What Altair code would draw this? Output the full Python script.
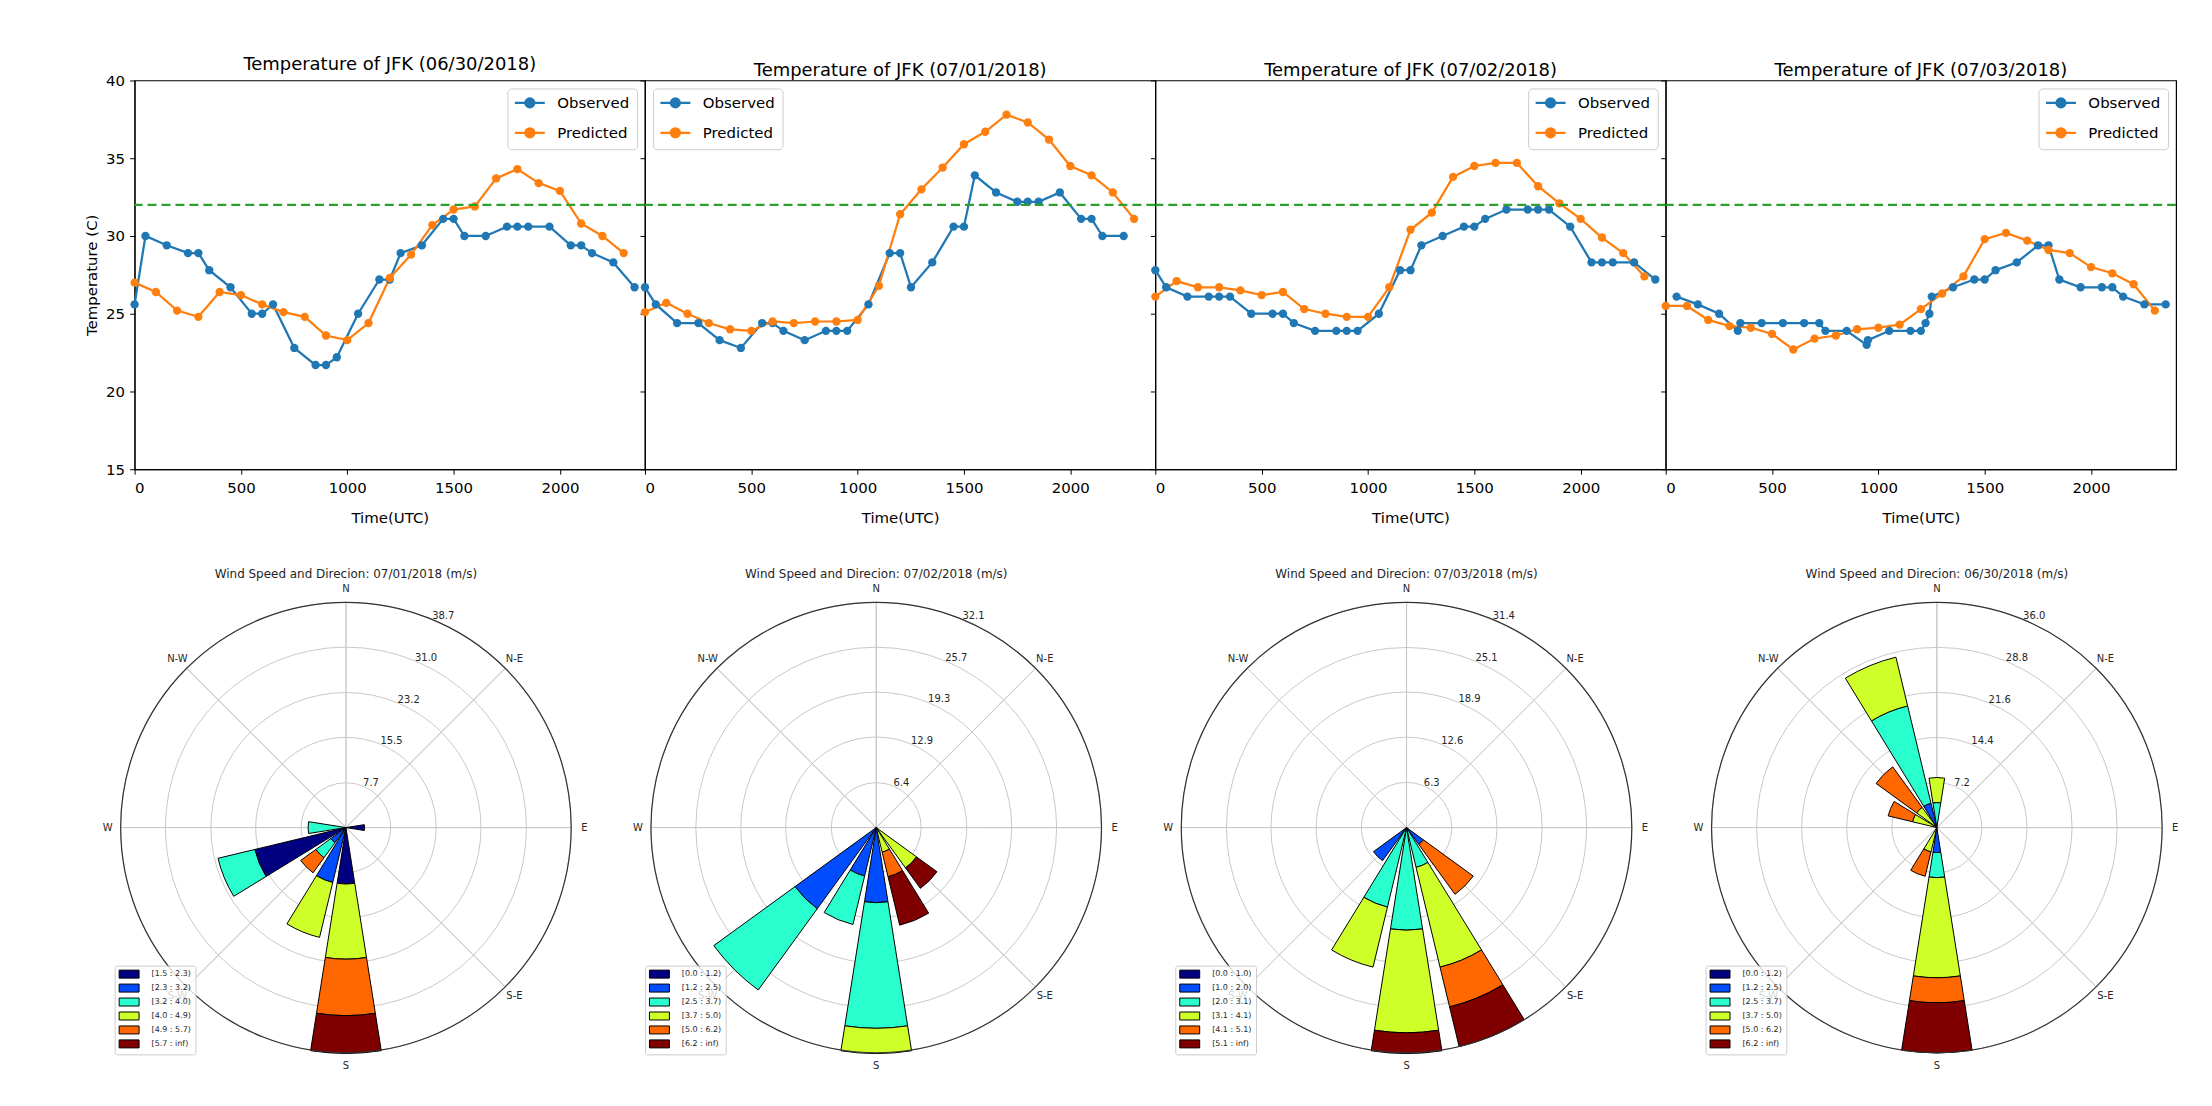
import math
import altair as alt
import pandas as pd

FONT = "DejaVu Sans"

# ---------------- temperature panels ----------------
TEMP_DATES = ["06/30/2018", "07/01/2018", "07/02/2018", "07/03/2018"]
SERIES = ["Observed", "Predicted"]
SERIES_COLORS = ["#1f77b4", "#ff7f0e"]
THRESHOLD = 32
X_TICKS = [0, 500, 1000, 1500, 2000]
Y_TICKS = [15, 20, 25, 30, 35, 40]
LEGEND_CORNERS = ["top-right", "top-left", "top-right", "top-right"]

PRED_TIME = [0, 100, 200, 300, 400, 500, 600, 700, 800, 900, 1000, 1100,
             1200, 1300, 1400, 1500, 1600, 1700, 1800, 1900, 2000, 2100, 2200, 2300]

OBS_TIME_0630 = [0, 51, 151, 251, 300, 351, 451, 551, 600, 651, 751, 851, 900, 951, 1051, 1151,
                 1200, 1251, 1351, 1451, 1500, 1551, 1651, 1751, 1800, 1851, 1951, 2051, 2100, 2151, 2251, 2351]
OBS_TEMP_0630 = [25.6, 30.0, 29.4, 28.9, 28.9, 27.8, 26.7, 25.0, 25.0, 25.6, 22.8, 21.7, 21.7, 22.2, 25.0, 27.2,
                 27.2, 28.9, 29.4, 31.1, 31.1, 30.0, 30.0, 30.6, 30.6, 30.6, 30.6, 29.4, 29.4, 28.9, 28.3, 26.7]
PRED_TEMP_0630 = [27.0, 26.4, 25.2, 24.8, 26.4, 26.2, 25.6, 25.1, 24.8, 23.6, 23.3, 24.4,
                  27.3, 28.8, 30.7, 31.7, 31.9, 33.7, 34.3, 33.4, 32.9, 30.8, 30.0, 28.9]

OBS_TIME_0701 = [0, 51, 151, 251, 351, 451, 551, 600, 651, 751, 851, 900, 951, 1051, 1151,
                 1200, 1251, 1351, 1451, 1500, 1551, 1651, 1751, 1800, 1851, 1951, 2051, 2100, 2151, 2251]
OBS_TEMP_0701 = [26.7, 25.6, 24.4, 24.4, 23.3, 22.8, 24.4, 24.4, 23.9, 23.3, 23.9, 23.9, 23.9, 25.6, 28.9,
                 28.9, 26.7, 28.3, 30.6, 30.6, 33.9, 32.8, 32.2, 32.2, 32.2, 32.8, 31.1, 31.1, 30.0, 30.0]
PRED_TEMP_0701 = [25.1, 25.7, 25.0, 24.4, 24.0, 23.9, 24.5, 24.4, 24.5, 24.5, 24.6, 26.8,
                  31.4, 33.0, 34.4, 35.9, 36.7, 37.8, 37.3, 36.2, 34.5, 33.9, 32.8, 31.1]

OBS_TIME_0702 = [0, 51, 151, 251, 300, 351, 451, 551, 600, 651, 751, 851, 900, 951, 1051, 1151,
                 1200, 1251, 1351, 1451, 1500, 1551, 1651, 1751, 1800, 1851, 1951, 2051, 2100, 2151, 2251, 2351]
OBS_TEMP_0702 = [27.8, 26.7, 26.1, 26.1, 26.1, 26.1, 25.0, 25.0, 25.0, 24.4, 23.9, 23.9, 23.9, 23.9, 25.0, 27.8,
                 27.8, 29.4, 30.0, 30.6, 30.6, 31.1, 31.7, 31.7, 31.7, 31.7, 30.6, 28.3, 28.3, 28.3, 28.3, 27.2]
PRED_TEMP_0702 = [26.1, 27.1, 26.7, 26.7, 26.5, 26.2, 26.4, 25.3, 25.0, 24.8, 24.8, 26.7,
                  30.4, 31.5, 33.8, 34.5, 34.7, 34.7, 33.2, 32.1, 31.1, 29.9, 28.9, 27.4]

OBS_TIME_0703 = [51, 151, 251, 339, 351, 451, 551, 651, 722, 751, 851, 945, 951, 1051, 1151, 1200, 1222,
                 1240, 1251, 1351, 1451, 1500, 1551, 1651, 1751, 1800, 1851, 1951, 2051, 2100, 2151, 2251, 2351]
OBS_TEMP_0703 = [26.1, 25.6, 25.0, 23.9, 24.4, 24.4, 24.4, 24.4, 24.4, 23.9, 23.9, 23.0, 23.3, 23.9, 23.9, 23.9, 24.4,
                 25.0, 26.1, 26.7, 27.2, 27.2, 27.8, 28.3, 29.4, 29.4, 27.2, 26.7, 26.7, 26.7, 26.1, 25.6, 25.6]
PRED_TEMP_0703 = [25.5, 25.5, 24.6, 24.2, 24.1, 23.7, 22.7, 23.4, 23.6, 24.0, 24.1, 24.3,
                  25.3, 26.3, 27.4, 29.8, 30.2, 29.7, 29.1, 28.9, 28.0, 27.6, 26.9, 25.2]

OBS_TIMES = [OBS_TIME_0630, OBS_TIME_0701, OBS_TIME_0702, OBS_TIME_0703]
OBS_TEMPS = [OBS_TEMP_0630, OBS_TEMP_0701, OBS_TEMP_0702, OBS_TEMP_0703]
PRED_TEMPS = [PRED_TEMP_0630, PRED_TEMP_0701, PRED_TEMP_0702, PRED_TEMP_0703]

# ---------------- wind roses ----------------
JET6 = ["#000080", "#004cff", "#29ffce", "#ceff29", "#ff6800", "#800000"]
SECTORS = ["N", "NNE", "NE", "ENE", "E", "ESE", "SE", "SSE",
           "S", "SSW", "SW", "WSW", "W", "WNW", "NW", "NNW"]
COMPASS_LABELS = ["N", "N-E", "E", "S-E", "S", "S-W", "W", "N-W"]
COMPASS_ANGLES = [0, 45, 90, 135, 180, 225, 270, 315]

ROSE_DATES = ["07/01/2018", "07/02/2018", "07/03/2018", "06/30/2018"]

ROSE1_BINS = ["[1.5 : 2.3)", "[2.3 : 3.2)", "[3.2 : 4.0)", "[4.0 : 4.9)", "[4.9 : 5.7)", "[5.7 : inf)"]
ROSE1_RINGS = [7.7, 15.5, 23.2, 31.0, 38.7]
ROSE1_DIRS = ["E", "W", "WSW", "SW", "SSW", "S"]
ROSE1_FREQ = [[3.2, 0, 0, 0, 0, 0],
              [0, 0, 6.5, 0, 0, 0],
              [16.1, 0, 6.5, 0, 0, 0],
              [0, 3.2, 3.2, 0, 3.2, 0],
              [0, 9.7, 0, 9.7, 0, 0],
              [9.7, 0, 0, 12.9, 9.7, 6.5]]

ROSE2_BINS = ["[0.0 : 1.2)", "[1.2 : 2.5)", "[2.5 : 3.7)", "[3.7 : 5.0)", "[5.0 : 6.2)", "[6.2 : inf)"]
ROSE2_RINGS = [6.4, 12.9, 19.3, 25.7, 32.1]
ROSE2_DIRS = ["SE", "SSE", "S", "SSW", "SW"]
ROSE2_FREQ = [[0, 0, 0, 7.1, 0, 3.6],
              [0, 0, 0, 3.6, 3.6, 7.1],
              [0, 10.7, 17.9, 3.6, 0, 0],
              [0, 7.1, 7.1, 0, 0, 0],
              [0, 14.3, 14.3, 0, 0, 0]]

ROSE3_BINS = ["[0.0 : 1.0)", "[1.0 : 2.0)", "[2.0 : 3.1)", "[3.1 : 4.1)", "[4.1 : 5.1)", "[5.1 : inf)"]
ROSE3_RINGS = [6.3, 12.6, 18.9, 25.1, 31.4]
ROSE3_DIRS = ["SE", "SSE", "S", "SSW", "SW"]
ROSE3_FREQ = [[0, 2.9, 0, 0, 8.6, 0],
              [0, 0, 5.7, 14.3, 5.7, 5.7],
              [0, 0, 14.3, 14.3, 0, 2.9],
              [0, 0, 11.4, 8.6, 0, 0],
              [0, 5.7, 0, 0, 0, 0]]

ROSE4_BINS = ["[0.0 : 1.2)", "[1.2 : 2.5)", "[2.5 : 3.7)", "[3.7 : 5.0)", "[5.0 : 6.2)", "[6.2 : inf)"]
ROSE4_RINGS = [7.2, 14.4, 21.6, 28.8, 36.0]
ROSE4_DIRS = ["N", "NNW", "NW", "WNW", "SSW", "S"]
ROSE4_FREQ = [[0, 0, 4.0, 4.0, 0, 0],
              [0, 4.0, 16.0, 8.0, 0, 0],
              [0, 0, 0, 4.0, 8.0, 0],
              [0, 0, 0, 4.0, 4.0, 0],
              [0, 0, 0, 4.0, 4.0, 0],
              [0, 4.0, 4.0, 16.0, 4.0, 8.0]]

ROSES = [(ROSE1_BINS, ROSE1_RINGS, ROSE1_DIRS, ROSE1_FREQ),
         (ROSE2_BINS, ROSE2_RINGS, ROSE2_DIRS, ROSE2_FREQ),
         (ROSE3_BINS, ROSE3_RINGS, ROSE3_DIRS, ROSE3_FREQ),
         (ROSE4_BINS, ROSE4_RINGS, ROSE4_DIRS, ROSE4_FREQ)]

# ---------------- layout / style ----------------
SPACER_W = 53
PANEL_W, PANEL_H = 512, 390
ROSE_W, ROSE_H = 530, 473
ROSE_R = 226
OPENING = 18.0
LABEL_R = 1.058
LINE_MARKER = "M-3,0H3M0.9,0A0.9,0.9,0,1,1,-0.9,0A0.9,0.9,0,1,1,0.9,0Z"
SWATCH = "M-2.5,-1H2.5V1H-2.5Z"


def temp_panel(i):
    obs = pd.DataFrame({"time": OBS_TIMES[i], "temp": OBS_TEMPS[i], "series": SERIES[0]})
    pred = pd.DataFrame({"time": PRED_TIME, "temp": PRED_TEMPS[i], "series": SERIES[1]})
    df = pd.concat([obs, pred], ignore_index=True)

    x = alt.X("time:Q", scale=alt.Scale(domain=[0, 2400], nice=False, zero=False),
              axis=alt.Axis(values=X_TICKS, format="d", title="Time(UTC)", grid=False))
    yscale = alt.Scale(domain=[15, 40], nice=False, zero=False)
    if i == 0:
        yaxis = alt.Axis(values=Y_TICKS, format="d", title="Temperature (C)", grid=False)
    else:
        yaxis = alt.Axis(values=Y_TICKS, labels=False, title=None, grid=False, domain=False)
    y = alt.Y("temp:Q", scale=yscale, axis=yaxis)
    yr = alt.Y("thr:Q", scale=yscale, axis=yaxis)

    color = alt.Color("series:N", scale=alt.Scale(domain=SERIES, range=SERIES_COLORS),
                      legend=alt.Legend(title=None, orient=LEGEND_CORNERS[i], offset=8,
                                        fillColor="white", strokeColor="#cccccc", cornerRadius=4,
                                        padding=7, rowPadding=11, labelFontSize=15, labelColor="black",
                                        symbolType=LINE_MARKER, symbolSize=100, symbolStrokeWidth=2.25,
                                        symbolOffset=8, labelOffset=20))
    base = alt.Chart(df).encode(x=x, y=y, color=color)
    lines = base.mark_line(strokeWidth=2.25)
    pts = base.mark_point(filled=True, size=70, opacity=1)
    thr = alt.Chart(pd.DataFrame({"thr": [THRESHOLD]})).mark_rule(
        color="#2ca02c", strokeDash=[9, 5], strokeWidth=2.25).encode(y=yr)
    return alt.layer(lines, pts, thr).properties(
        width=PANEL_W, height=PANEL_H,
        title=alt.Title(f"Temperature of JFK ({TEMP_DATES[i]})", fontSize=18,
                        fontWeight="normal", color="black", offset=0))


def spacer():
    return alt.Chart(pd.DataFrame({"v": [0]})).mark_point(opacity=0).encode(
        x=alt.X("v:Q", axis=None), y=alt.Y("v:Q", axis=None)
    ).properties(width=SPACER_W, height=PANEL_H, view=alt.ViewBackground(stroke="transparent"))


def rose_panel(k):
    bins, rings, dirs, freq = ROSES[k]
    rmax = rings[-1]
    rows = []
    for d, vals in zip(dirs, freq):
        b = SECTORS.index(d) * 22.5
        acc = 0.0
        for name, v in zip(bins, vals):
            if v > 0:
                rows.append({"a0": b - OPENING / 2, "a1": b + OPENING / 2,
                             "r0": acc, "r1": acc + v, "bin": name})
                acc += v
    bars_df = pd.DataFrame(rows)
    rings_df = pd.DataFrame({"a0": 0, "a1": 360, "r1": rings})
    outer_df = pd.DataFrame({"a0": [0], "a1": [360], "r1": [rmax]})
    spokes_df = pd.DataFrame({"a0": COMPASS_ANGLES, "a1": [a + 0.01 for a in COMPASS_ANGLES],
                              "r1": rmax})
    dirlab_df = pd.DataFrame({"a0": COMPASS_ANGLES, "r1": rmax * LABEL_R, "label": COMPASS_LABELS})
    ringlab_df = pd.DataFrame({"a0": 22.5, "r1": rings, "label": [f"{r:.1f}" for r in rings]})

    tscale = alt.Scale(domain=[0, 360], range=[0, 2 * math.pi], zero=True, nice=False)
    rscale = alt.Scale(type="linear", domain=[0, rmax], range=[0, ROSE_R], zero=True, nice=False)
    th = alt.Theta("a0:Q", scale=tscale, stack=None)
    th2 = alt.Theta2("a1:Q")
    rr = alt.Radius("r1:Q", scale=rscale)

    grid = alt.Chart(rings_df).mark_arc(fillOpacity=0, stroke="#c8c8c8", strokeWidth=1).encode(
        theta=th, theta2=th2, radius=rr)
    spokes = alt.Chart(spokes_df).mark_arc(fillOpacity=0, stroke="#c8c8c8", strokeWidth=1).encode(
        theta=th, theta2=th2, radius=rr)
    bars = alt.Chart(bars_df).mark_arc(stroke="black", strokeWidth=1).encode(
        theta=th, theta2=th2, radius=rr, radius2=alt.Radius2("r0:Q"),
        color=alt.Color("bin:N", scale=alt.Scale(domain=bins, range=JET6),
                        legend=alt.Legend(title=None, orient="none", legendX=33, legendY=375,
                                          fillColor="rgba(255,255,255,0.8)", strokeColor="#cccccc",
                                          cornerRadius=2, padding=4, rowPadding=1,
                                          labelFontSize=8, labelColor="#262626",
                                          symbolType=SWATCH, symbolSize=64, symbolStrokeColor="black",
                                          symbolStrokeWidth=1, symbolOffset=6, labelOffset=18)))
    outer = alt.Chart(outer_df).mark_arc(fillOpacity=0, stroke="#333333", strokeWidth=1.2).encode(
        theta=th, theta2=th2, radius=rr)
    dirlab = alt.Chart(dirlab_df).mark_text(fontSize=10, color="#262626", font=FONT).encode(
        theta=th, radius=rr, text="label:N")
    ringlab = alt.Chart(ringlab_df).mark_text(fontSize=10, color="#262626", font=FONT,
                                              align="left", baseline="middle", dy=-3).encode(
        theta=th, radius=rr, text="label:N")
    return alt.layer(grid, spokes, bars, outer, dirlab, ringlab).properties(
        width=ROSE_W, height=ROSE_H,
        view=alt.ViewBackground(stroke="transparent"),
        title=alt.Title(f"Wind Speed and Direcion: {ROSE_DATES[k]} (m/s)", fontSize=12,
                        fontWeight="normal", color="#262626", offset=3))


top = alt.hconcat(spacer(), *[temp_panel(i) for i in range(4)], spacing=0, bounds="flush").resolve_scale(
    color="independent").resolve_legend(color="independent")
bottom = alt.hconcat(*[rose_panel(k) for k in range(4)], spacing=0).resolve_scale(
    color="independent", theta="independent", radius="independent").resolve_legend(color="independent")

chart = alt.vconcat(top, bottom, spacing=41).properties(
    padding={"left": 73, "top": 45, "right": 2, "bottom": 2}
).configure(font=FONT).configure_view(
    stroke="black", strokeWidth=1.2
).configure_axis(
    labelFontSize=15, titleFontSize=15, titleFontWeight="normal", labelColor="black",
    titleColor="black", tickColor="black", domainColor="black", tickSize=5,
    labelFont=FONT, titleFont=FONT
).configure_axisX(labelPadding=6, titlePadding=15
).configure_axisY(labelPadding=5, titlePadding=6
).configure_title(font=FONT).configure_legend(labelFont=FONT)

chart.save("out.html", embed_options={"renderer": "svg", "actions": False})
